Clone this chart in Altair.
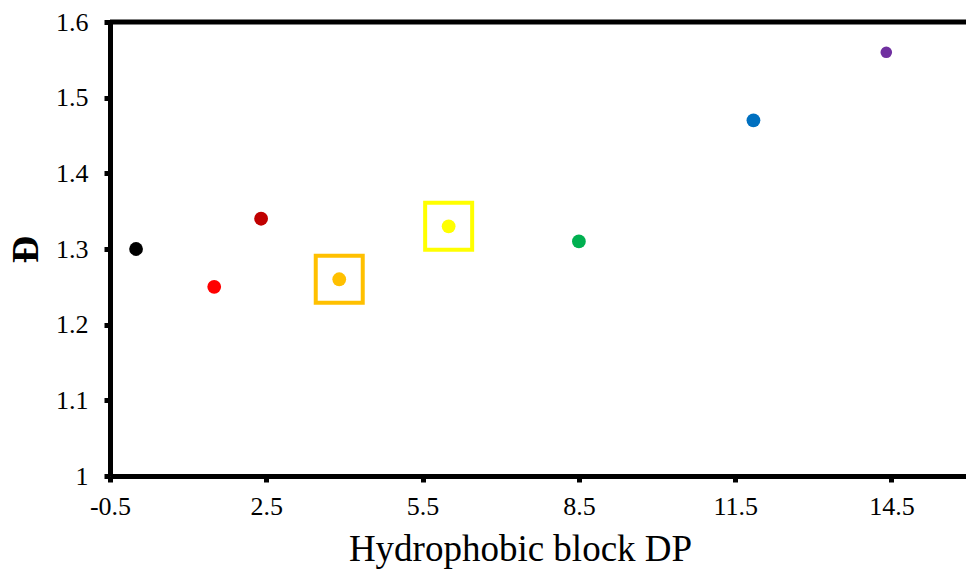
import altair as alt
import pandas as pd

dp = [0.0, 1.5, 2.4, 3.9, 6.0, 8.5, 11.85, 14.4]
dispersity = [1.30, 1.25, 1.34, 1.26, 1.33, 1.31, 1.47, 1.56]
colors = ["#000000", "#FF0000", "#C00000", "#FFC000", "#FFFF00", "#00B050", "#0070C0", "#7030A0"]
sizes = [190, 190, 190, 190, 190, 190, 190, 135]

box_dp = [3.9, 6.0]
box_disp = [1.26, 1.33]
box_colors = ["#FFC000", "#FFFF00"]

x_ticks = [-0.5, 2.5, 5.5, 8.5, 11.5, 14.5]
y_ticks = [1.0, 1.1, 1.2, 1.3, 1.4, 1.5, 1.6]

df = pd.DataFrame({"dp": dp, "d": dispersity, "c": colors, "s": sizes})
bf = pd.DataFrame({"dp": box_dp, "d": box_disp, "c": box_colors})

FONT = "Liberation Serif"

xscale = alt.Scale(domain=[-0.5, 15.93], nice=False, zero=False)
yscale = alt.Scale(domain=[1.0, 1.6], nice=False, zero=False)

xaxis = alt.Axis(values=x_ticks, labelExpr="'' + datum.value", title="Hydrophobic block DP",
                 grid=False, domainWidth=5, domainColor="black", tickWidth=5, tickSize=6,
                 tickColor="black", labelFontSize=26, labelColor="black", labelFont=FONT,
                 titleFont=FONT, titleFontSize=37, titleFontWeight="normal", titleColor="black",
                 labelPadding=11, titlePadding=12, labelFlush=False,
                 titleX=410, titleAlign="center")
yaxis = alt.Axis(values=y_ticks, labelExpr="'' + datum.value", title="Đ",
                 grid=False, domainWidth=5, domainColor="black", tickWidth=5, tickSize=6,
                 tickColor="black", labelFontSize=26, labelColor="black", labelFont=FONT,
                 titleFont=FONT, titleFontSize=38, titleFontWeight="bold", titleColor="black",
                 labelPadding=16, titlePadding=10, labelFlush=False)

points = alt.Chart(df).mark_circle(opacity=1).encode(
    x=alt.X("dp:Q", scale=xscale, axis=xaxis),
    y=alt.Y("d:Q", scale=yscale, axis=yaxis),
    color=alt.Color("c:N", scale=None),
    size=alt.Size("s:Q", scale=None),
)

boxes = alt.Chart(bf).mark_point(shape="square", filled=False, size=2209, strokeWidth=4, opacity=1).encode(
    x=alt.X("dp:Q", scale=xscale),
    y=alt.Y("d:Q", scale=yscale),
    stroke=alt.Stroke("c:N", scale=None),
)

top = alt.Chart(pd.DataFrame({"y": [1.6]})).mark_rule(color="black", strokeWidth=5).encode(
    y=alt.Y("y:Q", scale=yscale)
)

chart = alt.layer(boxes, points, top).properties(
    width=856, height=454,
    autosize=alt.AutoSizeParams(type="none"),
    padding={"left": 110, "top": 22, "right": 0, "bottom": 98},
).configure_view(stroke=None).configure(background="white")

chart.save("out.html", embed_options={"renderer": "svg", "actions": False})
